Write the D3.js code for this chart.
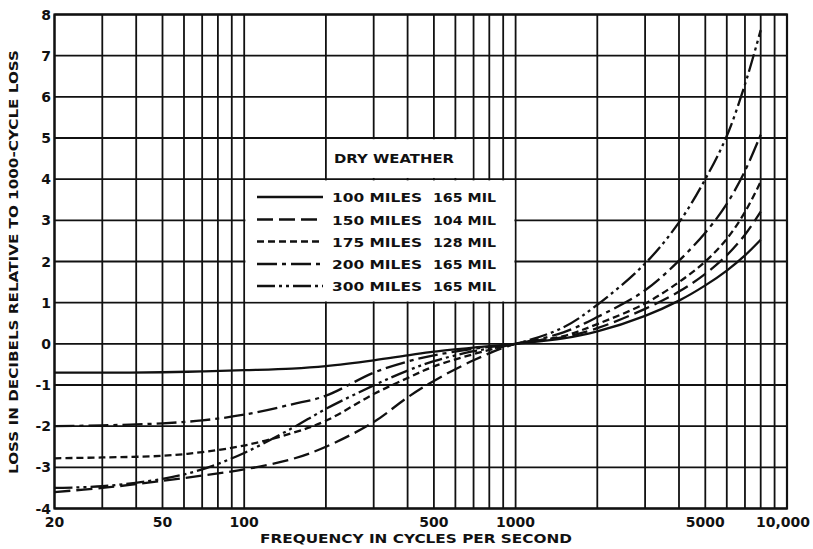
<!DOCTYPE html>
<html>
<head>
<meta charset="utf-8">
<script src="https://cdn.jsdelivr.net/npm/d3@7"></script>
<style>
  body { margin: 0; background: #fff; }
  text { font-family: "DejaVu Sans", sans-serif; fill: #111; }
</style>
</head>
<body>
<script>
// chart size
var width = 813;
var height = 549;

// frequencies (cycles per second) where curves are sampled
var freqLow = [20, 30, 50, 70, 100, 150, 200, 300, 400, 500, 700, 1000];
var freqHigh = [1500, 2000, 3000, 4000, 5000, 6000, 7000, 8000];

// loss in dB relative to 1000-cycle loss
var miles100 = [-0.70, -0.70, -0.69, -0.67, -0.64, -0.60, -0.54, -0.40, -0.28, -0.19, -0.09, 0,
                0.13, 0.30, 0.68, 1.05, 1.42, 1.78, 2.15, 2.53];
var miles150 = [-3.60, -3.50, -3.33, -3.20, -3.05, -2.80, -2.50, -1.90, -1.30, -0.90, -0.40, 0,
                0.16, 0.38, 0.85, 1.27, 1.70, 2.15, 2.65, 3.21];
var miles175 = [-2.78, -2.76, -2.72, -2.63, -2.47, -2.17, -1.87, -1.22, -0.83, -0.55, -0.25, 0,
                0.19, 0.48, 0.98, 1.50, 2.00, 2.55, 3.20, 3.94];
var miles200 = [-2.00, -1.98, -1.93, -1.86, -1.72, -1.47, -1.26, -0.70, -0.43, -0.28, -0.12, 0,
                0.28, 0.65, 1.30, 2.02, 2.70, 3.40, 4.20, 5.08];
var miles300 = [-3.50, -3.46, -3.28, -3.05, -2.65, -2.05, -1.58, -1.01, -0.65, -0.42, -0.18, 0,
                0.40, 0.95, 1.95, 2.95, 4.00, 5.05, 6.30, 7.62];

var seriesNames = ["100 MILES", "150 MILES", "175 MILES", "200 MILES", "300 MILES"];
var seriesGauge = ["165 MIL", "104 MIL", "128 MIL", "165 MIL", "165 MIL"];
var seriesDash = [null, "16,6", "7,4", "20,5,4,5", "18,4,3,4,3,4"];

// grid and tick labels
var gridFreqs = [20, 30, 40, 50, 60, 70, 80, 90, 100, 200, 300, 400, 500, 600, 700, 800, 900,
                 1000, 2000, 3000, 4000, 5000, 6000, 7000, 8000, 9000, 10000];
var xTicks = [20, 50, 100, 500, 1000, 5000, 10000];
var xTickLabels = ["20", "50", "100", "500", "1000", "5000", "10,000"];
var yTicks = [-4, -3, -2, -1, 0, 1, 2, 3, 4, 5, 6, 7, 8];

var freqs = freqLow.concat(freqHigh);
var allSeries = [miles100, miles150, miles175, miles200, miles300];

var x = d3.scaleLog().domain([20, 10000]).range([54.5, 787]);
var y = d3.scaleLinear().domain([-4, 8]).range([508.5, 14.5]);

var svg = d3.select("body")
    .append("svg")
    .attr("width", width)
    .attr("height", height);

// grid
svg.append("g").selectAll("line")
    .data(gridFreqs)
    .enter()
    .append("line")
    .attr("x1", d => x(d)).attr("x2", d => x(d))
    .attr("y1", y(8)).attr("y2", y(-4))
    .attr("stroke", "#111").attr("stroke-width", 1.8);

svg.append("g").selectAll("line")
    .data(yTicks)
    .enter()
    .append("line")
    .attr("x1", x(20)).attr("x2", x(10000))
    .attr("y1", d => y(d)).attr("y2", d => y(d))
    .attr("stroke", "#111").attr("stroke-width", 1.8);

// blank boxes for the legend (cover the inner grid lines)
var ins = 1.2;
svg.append("rect")
    .attr("x", x(200) + ins).attr("y", y(5) + ins)
    .attr("width", x(700) - x(200) - 2 * ins).attr("height", y(4) - y(5) - 2 * ins)
    .attr("fill", "#fff");
svg.append("rect")
    .attr("x", x(100) + ins).attr("y", y(4) + ins)
    .attr("width", x(1000) - x(100) - 2 * ins).attr("height", y(1) - y(4) - 2 * ins)
    .attr("fill", "#fff");

// frame
svg.append("rect")
    .attr("x", x(20)).attr("y", y(8))
    .attr("width", x(10000) - x(20)).attr("height", y(-4) - y(8))
    .attr("fill", "none").attr("stroke", "#111").attr("stroke-width", 2.2);

// curves
var line = d3.line()
    .x((d, i) => x(freqs[i]))
    .y(d => y(d))
    .curve(d3.curveCatmullRom.alpha(0.5));

svg.append("g").selectAll("path")
    .data(allSeries)
    .enter()
    .append("path")
    .attr("d", d => line(d))
    .attr("fill", "none")
    .attr("stroke", "#111")
    .attr("stroke-width", 2.3)
    .attr("stroke-dasharray", (d, i) => seriesDash[i]);

// y tick labels
svg.append("g").selectAll("text")
    .data(yTicks)
    .enter()
    .append("text")
    .attr("x", 51)
    .attr("y", d => y(d) + 5)
    .attr("text-anchor", "end")
    .style("font-size", "14px")
    .style("font-weight", "bold")
    .text(d => d < 0 ? "-" + Math.abs(d) : d);

// x tick labels
svg.append("g").selectAll("text")
    .data(xTicks)
    .enter()
    .append("text")
    .attr("x", (d, i) => d === 10000 ? x(d) - 4 : x(d))
    .attr("y", 527)
    .attr("text-anchor", "middle")
    .style("font-size", "14px")
    .style("font-weight", "bold")
    .text((d, i) => xTickLabels[i]);

// axis titles
svg.append("text")
    .attr("x", 416).attr("y", 543)
    .attr("text-anchor", "middle")
    .attr("textLength", 312)
    .attr("lengthAdjust", "spacingAndGlyphs")
    .style("font-size", "12.5px")
    .style("font-weight", "bold")
    .text("FREQUENCY IN CYCLES PER SECOND");

svg.append("text")
    .attr("transform", "translate(18,262) rotate(-90)")
    .attr("text-anchor", "middle")
    .attr("textLength", 424)
    .attr("lengthAdjust", "spacingAndGlyphs")
    .style("font-size", "12.5px")
    .style("font-weight", "bold")
    .text("LOSS IN DECIBELS RELATIVE TO 1000-CYCLE LOSS");

// legend
svg.append("text")
    .attr("x", 394).attr("y", 163)
    .attr("text-anchor", "middle")
    .attr("textLength", 120)
    .attr("lengthAdjust", "spacingAndGlyphs")
    .style("font-size", "13px")
    .style("font-weight", "bold")
    .text("DRY WEATHER");

var legendY = [197, 219.5, 241.5, 264, 286];
var leg = svg.append("g").selectAll("g")
    .data(seriesNames)
    .enter()
    .append("g");

leg.append("line")
    .attr("x1", 257).attr("x2", 323)
    .attr("y1", (d, i) => legendY[i]).attr("y2", (d, i) => legendY[i])
    .attr("stroke", "#111").attr("stroke-width", 2.3)
    .attr("stroke-dasharray", (d, i) => seriesDash[i]);

leg.append("text")
    .attr("x", 332)
    .attr("y", (d, i) => legendY[i] + 5)
    .attr("textLength", 90)
    .attr("lengthAdjust", "spacingAndGlyphs")
    .style("font-size", "13px")
    .style("font-weight", "bold")
    .text(d => d);

leg.append("text")
    .attr("x", 433)
    .attr("y", (d, i) => legendY[i] + 5)
    .attr("textLength", 63)
    .attr("lengthAdjust", "spacingAndGlyphs")
    .style("font-size", "13px")
    .style("font-weight", "bold")
    .text((d, i) => seriesGauge[i]);
</script>
</body>
</html>
